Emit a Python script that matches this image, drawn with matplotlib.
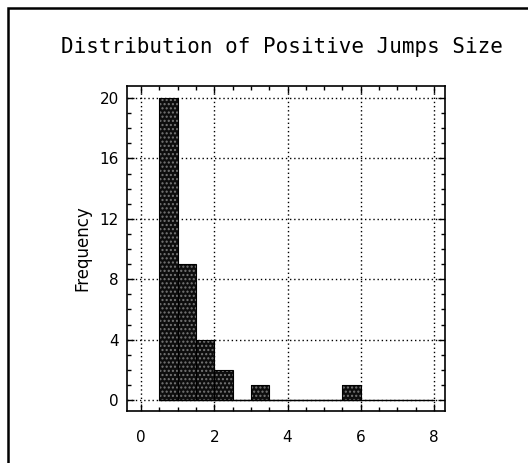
import matplotlib
matplotlib.use("Agg")
import matplotlib.pyplot as plt
from matplotlib.patches import Rectangle
from matplotlib.ticker import MultipleLocator

# histogram bins (left edges, width 0.5) and counts
bin_left = [0.5, 1.0, 1.5, 2.0, 2.5, 3.0, 3.5, 4.0, 4.5, 5.0, 5.5]
counts = [20, 9, 4, 2, 0, 1, 0, 0, 0, 0, 1]
bin_width = 0.5
x_ticks = [0, 2, 4, 6, 8]
y_ticks = [0, 4, 8, 12, 16, 20]

fig = plt.figure(figsize=(5.28, 4.63), dpi=100)
ax = fig.add_axes([0.2405, 0.1123, 0.6025, 0.702])

# stippled dark bars
ax.bar(bin_left, counts, width=bin_width, align="edge", color="#0d0d0d",
       edgecolor="#777777", hatch="....", linewidth=0, zorder=3)
ax.bar(bin_left, counts, width=bin_width, align="edge", fill=False,
       edgecolor="black", linewidth=0.8, zorder=4)
ax.plot([0.5, 8], [0, 0], color="black", linewidth=1.0, zorder=4)

ax.set_xlim(-0.38, 8.3)
ax.set_ylim(-0.73, 20.8)
ax.set_xticks(x_ticks)
ax.set_yticks(y_ticks)
ax.xaxis.set_minor_locator(MultipleLocator(0.5))
ax.yaxis.set_minor_locator(MultipleLocator(1))
ax.tick_params(which="both", direction="in", top=True, right=True,
               color="black")
ax.tick_params(which="major", length=5, width=1, labelsize=11)
ax.tick_params(which="minor", length=3, width=1)
ax.tick_params(axis="x", pad=14)
ax.tick_params(axis="y", pad=6)
ax.grid(True, which="major", linestyle=(0, (1, 2)), color="black",
        linewidth=1.0, zorder=1)
for s in ax.spines.values():
    s.set_linewidth(1.2)

ax.set_ylabel("Frequency", fontsize=12, labelpad=6)
fig.text(0.534, 0.898, "Distribution of Positive Jumps Size",
         ha="center", va="center", fontsize=15, family="DejaVu Sans Mono")

# outer frame of the page
fig.patches.append(Rectangle((8 / 528, -0.05), 1.2, 1 - 8 / 463 + 0.05,
                             transform=fig.transFigure, fill=False,
                             edgecolor="black", linewidth=1.8))

fig.savefig("out.png", dpi=100)
